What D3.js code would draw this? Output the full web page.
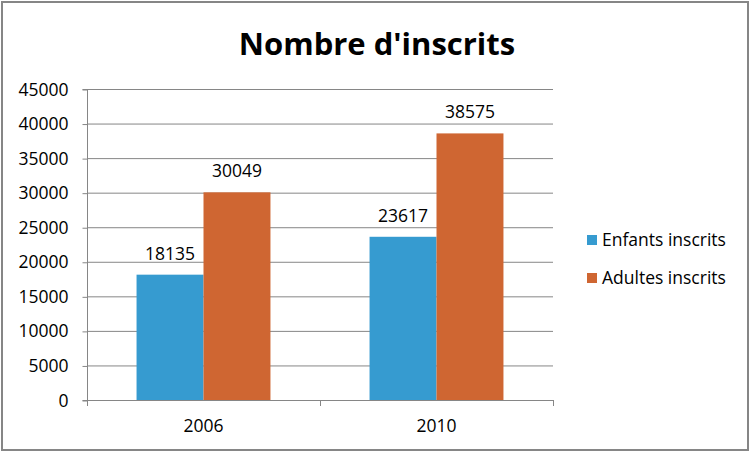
<!DOCTYPE html>
<html><head><meta charset="utf-8">
<script src="https://cdn.jsdelivr.net/npm/d3@7"></script>
<style>body{margin:0;background:#fff}svg{display:block}</style>
</head><body>
<script>
const categories = ["2006", "2010"];
const seriesNames = ["Enfants inscrits", "Adultes inscrits"];
const enfants = [18135, 23617];
const adultes = [30049, 38575];
const yTicks = [0, 5000, 10000, 15000, 20000, 25000, 30000, 35000, 40000, 45000];
const colors = ["#369BD0", "#CF6632"];
const title = "Nombre d'inscrits";

const W = 754, H = 453;
const font = "'Open Sans', 'Noto Sans', sans-serif";
const fs = 17.5;
const svg = d3.select("body").append("svg").attr("width", W).attr("height", H);
svg.append("rect").attr("x", 2).attr("y", 2).attr("width", 746).attr("height", 448)
  .attr("fill", "#fff").attr("stroke", "#868686").attr("stroke-width", 2);

const x0 = 87, x1 = 553, yTop = 89, yBot = 400;
const x = d3.scaleBand().domain(categories).range([x0, x1]);
const y = d3.scaleLinear().domain([0, 45000]).range([yBot, yTop]);
const inner = d3.scaleBand().domain([0, 1]).range([0, x.bandwidth()]).paddingInner(0).paddingOuter(0.74);

// gridlines
svg.append("g").selectAll("line").data(yTicks.slice(1)).join("line")
  .attr("x1", x0).attr("x2", x1).attr("y1", d => y(d) + 0.5).attr("y2", d => y(d) + 0.5)
  .attr("stroke", "#868686").attr("stroke-width", 1);

// y axis
const yAxis = d3.axisLeft(y).tickValues(yTicks).tickSize(5).tickPadding(14).tickFormat(d3.format("d"));
const gy = svg.append("g").attr("transform", `translate(${x0 + 0.5},0.5)`).call(yAxis);
gy.select(".domain").attr("stroke", "#868686").attr("d", `M-5,${yBot}H0V${yTop}H-5`);
gy.selectAll(".tick line").attr("stroke", "#868686");
gy.selectAll("text").attr("font-family", font).attr("font-size", fs).attr("fill", "#000");

const data = categories.map((c, i) => [enfants[i], adultes[i]]);
const groups = svg.append("g").selectAll("g").data(categories).join("g")
  .attr("transform", d => `translate(${x(d)},0)`);
groups.selectAll("rect").data((d, i) => data[i]).join("rect")
  .attr("x", (d, j) => inner(j)).attr("width", inner.bandwidth())
  .attr("y", d => y(d)).attr("height", d => yBot - y(d))
  .attr("fill", (d, j) => colors[j]);
groups.selectAll("text").data((d, i) => data[i]).join("text")
  .attr("x", (d, j) => inner(j) + inner.bandwidth() / 2)
  .attr("y", d => y(d) - 15)
  .attr("text-anchor", "middle").attr("font-family", font).attr("font-size", fs)
  .text(d => d);

// x axis
const xAxis = d3.axisBottom(x).tickSize(0).tickPadding(19);
const gx = svg.append("g").attr("transform", `translate(0,${yBot + 0.5})`).call(xAxis);
gx.select(".domain").remove();
gx.selectAll("text").attr("font-family", font).attr("font-size", fs).attr("fill", "#000");
svg.append("line").attr("x1", x0).attr("x2", x1).attr("y1", yBot + 0.5).attr("y2", yBot + 0.5).attr("stroke", "#868686");
svg.append("g").selectAll("line").data([x0, x0 + x.bandwidth(), x1]).join("line")
  .attr("x1", d => d + 0.5).attr("x2", d => d + 0.5).attr("y1", yBot).attr("y2", yBot + 6)
  .attr("stroke", "#868686");

// title
svg.append("text").attr("x", 377).attr("y", 55).attr("text-anchor", "middle")
  .attr("font-family", font).attr("font-weight", "bold").attr("font-size", 31).text(title);

// legend
const lg = svg.append("g").selectAll("g").data(seriesNames).join("g")
  .attr("transform", (d, i) => `translate(587,${240 + i * 38})`);
lg.append("rect").attr("x", 0).attr("y", -5).attr("width", 10).attr("height", 10).attr("fill", (d, i) => colors[i]);
lg.append("text").attr("x", 15).attr("y", 6).attr("font-family", font).attr("font-size", fs).text(d => d);
</script>
</body></html>
